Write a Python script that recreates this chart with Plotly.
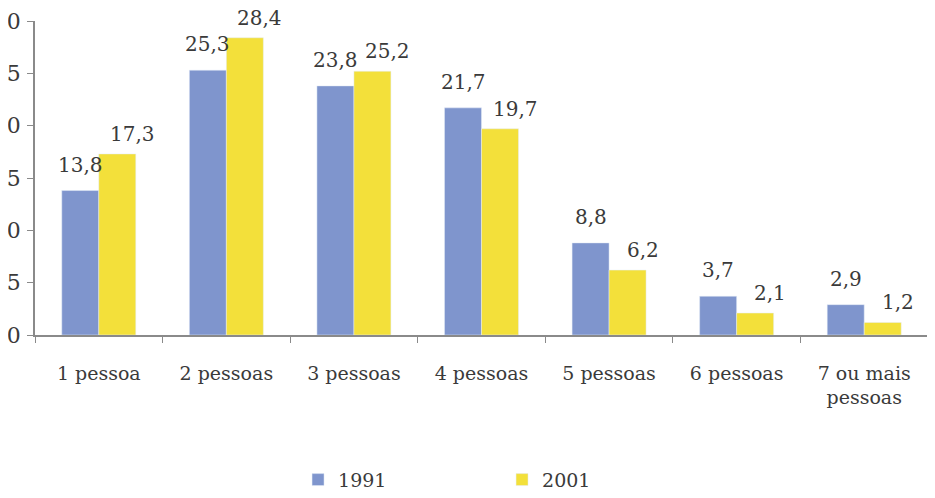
import plotly.graph_objects as go

categories = ["1 pessoa", "2 pessoas", "3 pessoas", "4 pessoas", "5 pessoas", "6 pessoas", "7 ou mais<br>pessoas"]
values_1991 = [13.8, 25.3, 23.8, 21.7, 8.8, 3.7, 2.9]
values_2001 = [17.3, 28.4, 25.2, 19.7, 6.2, 2.1, 1.2]
series_names = ["1991", "2001"]
y_ticks = [0, 5, 10, 15, 20, 25, 30]

def fmt(v):
    return f"{v:.1f}".replace(".", ",")

FONT = "DejaVu Serif"
TXT = "#3a3a3a"
BLUE = "#7f95cd"
YELLOW = "#f3e03a"

fig = go.Figure()
fig.add_trace(go.Bar(x=categories, y=values_1991, name=series_names[0], marker_color=BLUE,
                     offsetgroup="a"))
fig.add_trace(go.Bar(x=categories, y=values_2001, name=series_names[1], marker_color=YELLOW,
                     offsetgroup="b"))

anns = []
for i, c in enumerate(categories):
    anns.append(dict(x=c, y=values_1991[i], text=fmt(values_1991[i]), showarrow=False,
                     xref="x", yref="y", yanchor="bottom", xshift=-18.5, yshift=12,
                     font=dict(family=FONT, size=20, color=TXT)))
    anns.append(dict(x=c, y=values_2001[i], text=fmt(values_2001[i]), showarrow=False,
                     xref="x", yref="y", yanchor="bottom", xshift=18.5 + 15, yshift=6,
                     font=dict(family=FONT, size=20, color=TXT)))

fig.update_layout(
    width=935, height=498,
    margin=dict(l=27, r=15, t=13, b=171, autoexpand=False),
    paper_bgcolor="white", plot_bgcolor="white",
    barmode="group", bargap=0.42, bargroupgap=0,
    showlegend=True,
    legend=dict(orientation="h", x=0.523, xanchor="center", y=-0.461, yanchor="middle",
                font=dict(family=FONT, size=19, color=TXT), entrywidth=159,
                itemwidth=30),
    annotations=anns,
    font=dict(family=FONT, color=TXT),
)
fig.update_xaxes(showline=True, linecolor="#8a8a8a", linewidth=1.5, automargin=False,
                 ticks="outside", tickson="boundaries", ticklen=6, tickcolor="#8a8a8a",
                 tickfont=dict(family=FONT, size=19, color=TXT), ticklabelstandoff=20,
                 showgrid=False)
fig.update_yaxes(range=[0, 30], tickvals=y_ticks, showline=True, linecolor="#8a8a8a",
                 linewidth=1.5, ticks="outside", ticklen=6, tickcolor="#8a8a8a", automargin=False,
                 tickfont=dict(family=FONT, size=22, color=TXT), showgrid=False,
                 zeroline=False, ticklabelstandoff=2, ticklabeloverflow="allow")

fig.write_html("out.html")
